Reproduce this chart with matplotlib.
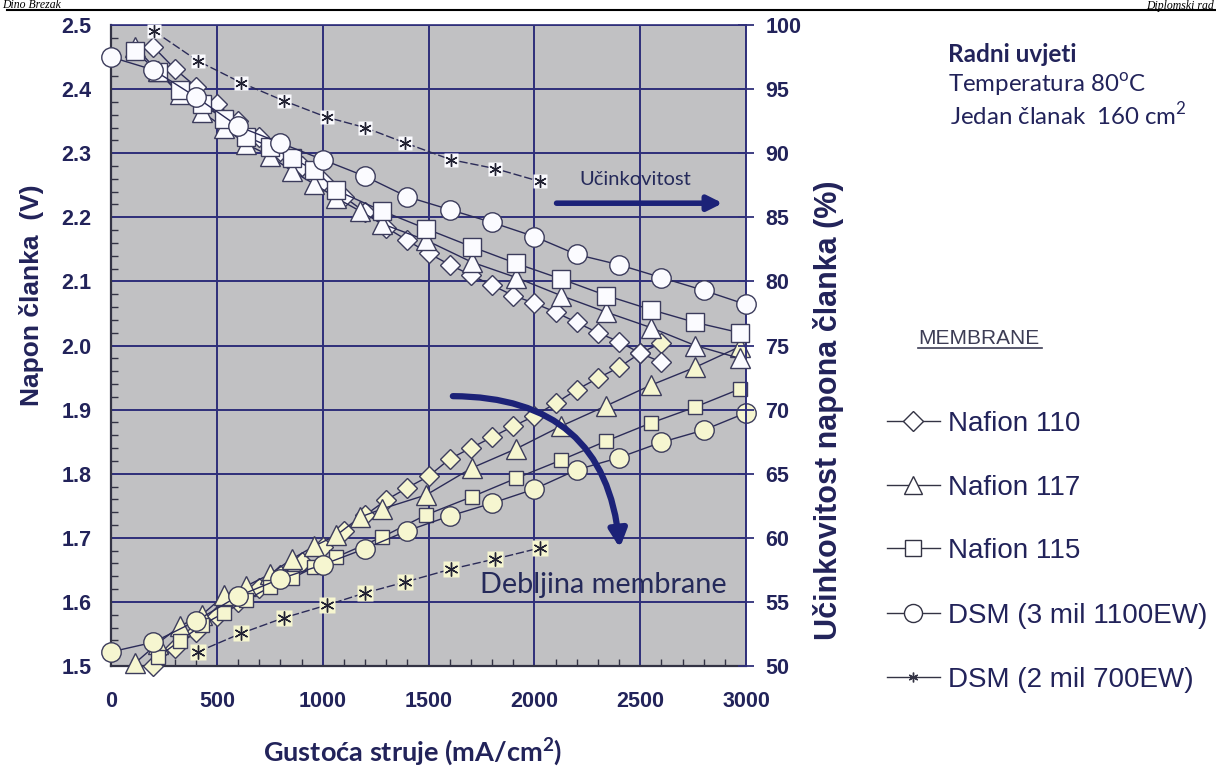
import matplotlib
matplotlib.use('Agg')
import matplotlib.pyplot as plt
from matplotlib.lines import Line2D
from matplotlib.ticker import MultipleLocator, FormatStrFormatter
import numpy as np

plt.rcParams['mathtext.fontset'] = 'custom'
plt.rcParams['mathtext.rm'] = 'Lato'
plt.rcParams['mathtext.bf'] = 'Lato:bold'

# ---------------- data ----------------
# Nafion 110 (diamonds)
n110_x = [200, 300, 400, 500, 600, 700, 800, 900, 1000, 1100, 1200, 1300, 1400,
          1500, 1600, 1700, 1800, 1900, 2000, 2100, 2200, 2300, 2400, 2500, 2600]
n110_eff = [98.3, 96.6, 95.2, 93.8, 92.5, 91.3, 90.2, 89.0, 87.8, 86.6, 85.4, 84.2, 83.2,
            82.2, 81.3, 80.5, 79.7, 78.9, 78.3, 77.6, 76.8, 76.0, 75.3, 74.4, 73.7]
n110_volt = [1.500, 1.528, 1.553, 1.578, 1.600, 1.622, 1.642, 1.663, 1.686, 1.710, 1.735, 1.759, 1.778,
             1.796, 1.823, 1.840, 1.857, 1.874, 1.890, 1.910, 1.931, 1.949, 1.966, 1.988, 2.004]

# Nafion 117 (triangles)
n117_x = [115, 220, 325, 430, 535, 640, 750, 855, 960, 1065, 1175, 1280,
          1490, 1705, 1915, 2125, 2340, 2550, 2760, 2970]
n117_eff = [98.3, 96.4, 94.6, 93.2, 92.0, 90.7, 89.8, 88.6, 87.6, 86.5, 85.5, 84.5,
            83.2, 81.5, 80.3, 78.9, 77.6, 76.4, 75.0, 74.0]
n117_volt = [1.505, 1.535, 1.562, 1.580, 1.610, 1.625, 1.643, 1.667, 1.687, 1.704, 1.732, 1.745,
             1.767, 1.809, 1.839, 1.874, 1.906, 1.938, 1.966, 1.998]

# Nafion 115 (squares)
n115_x = [115, 220, 325, 430, 535, 640, 750, 855, 960, 1065, 1280, 1490,
          1705, 1915, 2125, 2340, 2550, 2760, 2970]
n115_eff = [98.0, 96.3, 94.9, 93.8, 92.7, 91.3, 90.5, 89.6, 88.7, 87.1, 85.5, 84.1,
            82.7, 81.4, 80.2, 78.9, 77.8, 76.8, 76.0]
n115_vx = [220, 325, 430, 535, 640, 750, 855, 960, 1065, 1280, 1490,
           1705, 1915, 2125, 2340, 2550, 2760, 2970]
n115_volt = [1.514, 1.539, 1.564, 1.583, 1.603, 1.623, 1.637, 1.654, 1.670, 1.701, 1.736,
             1.764, 1.793, 1.821, 1.851, 1.879, 1.904, 1.932]

# DSM 3 mil 1100EW (circles)
dsm3_x = [0, 200, 400, 600, 800, 1000, 1200, 1400, 1600, 1800, 2000, 2200, 2400, 2600, 2800, 3000]
dsm3_eff = [97.5, 96.5, 94.4, 92.1, 90.8, 89.5, 88.2, 86.6, 85.6, 84.6, 83.5, 82.1, 81.3, 80.3, 79.3, 78.2]
dsm3_volt = [1.522, 1.537, 1.570, 1.609, 1.636, 1.658, 1.683, 1.711, 1.734, 1.754, 1.776, 1.806,
             1.825, 1.849, 1.868, 1.895]

# DSM 2 mil 700EW (stars)
dsm2_x = [205, 410, 615, 815, 1020, 1200, 1390, 1605, 1815, 2025]
dsm2_eff = [99.5, 97.2, 95.5, 94.1, 92.8, 92.0, 90.8, 89.5, 88.8, 87.8]
dsm2_vx = [410, 615, 815, 1020, 1200, 1390, 1605, 1815, 2025]
dsm2_volt = [1.522, 1.551, 1.575, 1.595, 1.614, 1.631, 1.651, 1.667, 1.684]

legend_labels = ['Nafion 110', 'Nafion 117', 'Nafion 115', 'DSM (3 mil 1100EW)', 'DSM (2 mil 700EW)']

# ---------------- styling ----------------
W, H = 1216, 769
NAVY = '#22235a'
GRID = '#2f2f7a'
LINE = '#2b2b58'
EDGE = '#3c3c5c'
WHITE = '#fbfbff'
CREAM = '#f6f6d0'
ARROW = '#1c2278'

fig = plt.figure(figsize=(W / 100, H / 100), dpi=100)
L, R, T, B = 111, 746, 25, 666
ax = fig.add_axes([L / W, 1 - B / H, (R - L) / W, (B - T) / H])
ax.set_facecolor('#c1c1c3')
ax.set_xlim(0, 3000)
ax.set_ylim(1.5, 2.5)
ax2 = ax.twinx()
ax2.set_ylim(50, 100)

ax.xaxis.set_major_locator(MultipleLocator(500))
ax.xaxis.set_minor_locator(MultipleLocator(100))
ax.yaxis.set_major_locator(MultipleLocator(0.1))
ax.yaxis.set_minor_locator(MultipleLocator(0.02))
ax.yaxis.set_major_formatter(FormatStrFormatter('%.1f'))
ax2.yaxis.set_major_locator(MultipleLocator(5))

tick_font = dict(family='Liberation Sans', weight='bold', size=15.5)
ax.grid(which='major', color=GRID, lw=1.4, zorder=0)
ax.set_axisbelow(True)
ax.tick_params(axis='x', which='major', length=0, pad=18, labelcolor=NAVY)
ax.tick_params(axis='x', which='minor', direction='in', length=5, width=1, color='#333344')
ax.tick_params(axis='y', which='major', length=0, pad=14, labelcolor=NAVY)
ax.tick_params(axis='y', which='minor', direction='in', length=5, width=1, color='#333344')
ax2.tick_params(axis='y', which='major', direction='inout', length=12, width=1.3, color=GRID,
                pad=8, labelcolor=NAVY)
for lab in ax.get_xticklabels() + ax.get_yticklabels() + ax2.get_yticklabels():
    lab.set_fontproperties(matplotlib.font_manager.FontProperties(**tick_font))

for sp in ['left', 'bottom']:
    ax.spines[sp].set_color('#333344')
    ax.spines[sp].set_linewidth(1.6)
ax.spines['top'].set_color(GRID)
ax.spines['top'].set_linewidth(1.2)
ax.spines['right'].set_visible(False)
for sp in ['left', 'bottom', 'top']:
    ax2.spines[sp].set_visible(False)
ax2.spines['right'].set_color(GRID)
ax2.spines['right'].set_linewidth(1.4)

common = dict(color=LINE, lw=1.0, mec=EDGE, mew=1.0, clip_on=False)

# falling (efficiency, right axis)
ax2.plot(n110_x, n110_eff, marker='D', ms=10, mfc=WHITE, zorder=3, **common)
ax2.plot(n117_x, n117_eff, marker='^', ms=15, mfc=WHITE, zorder=4, **common)
ax2.plot(n115_x, n115_eff, marker='s', ms=13, mfc=WHITE, zorder=5, **common)
ax2.plot(dsm3_x, dsm3_eff, marker='o', ms=14, mfc=WHITE, zorder=6, **common)
ax2.plot(dsm2_x, dsm2_eff, ls=(0, (6, 2)), color=LINE, lw=1.0, zorder=6, clip_on=False)
ax2.plot(dsm2_x, dsm2_eff, ls='none', marker='s', ms=10, mfc=WHITE, mec='none', zorder=7, clip_on=False)
ax2.plot(dsm2_x, dsm2_eff, ls='none', marker=(6, 2, 0), ms=9, mec='#222233', mew=1.0, zorder=8, clip_on=False)

# rising (voltage, left axis)
ax.plot(n110_x, n110_volt, marker='D', ms=10, mfc=CREAM, zorder=3, **common)
ax.plot(n117_x, n117_volt, marker='^', ms=15, mfc=CREAM, zorder=4, **common)
ax.plot(n115_vx, n115_volt, marker='s', ms=10, mfc=CREAM, zorder=5, **common)
ax.plot(dsm3_x, dsm3_volt, marker='o', ms=14, mfc=CREAM, zorder=6, **common)
ax.plot(dsm2_vx, dsm2_volt, ls=(0, (6, 2)), color=LINE, lw=1.0, zorder=6, clip_on=False)
ax.plot(dsm2_vx, dsm2_volt, ls='none', marker='s', ms=11, mfc=CREAM, mec='none', zorder=7, clip_on=False)
ax.plot(dsm2_vx, dsm2_volt, ls='none', marker=(6, 2, 0), ms=10, mec='#222233', mew=1.0, zorder=8, clip_on=False)

# annotations inside the plot
ax2.annotate('', xy=(2890, 86.1), xytext=(2105, 86.1),
             arrowprops=dict(arrowstyle='-|>', color=ARROW, lw=4, mutation_scale=22,
                             shrinkA=0, shrinkB=0), zorder=9)
ax2.text(2215, 87.5, 'Učinkovitost', family='Lato', size=14.5, color='#252a5a',
         ha='left', va='baseline', zorder=9)
ax.annotate('', xy=(2404, 1.684), xytext=(1615, 1.921),
            arrowprops=dict(arrowstyle='-|>', connectionstyle='arc3,rad=-0.45', color=ARROW,
                            lw=4.5, mutation_scale=26, shrinkA=0, shrinkB=0), zorder=9)
ax.text(1743, 1.614, 'Debljina membrane', family='Lato', size=20.8, color='#252a5a',
        ha='left', va='baseline', zorder=9)

# axis labels
fig.text(32 / W, 1 - 295 / H, 'Napon članka  (V)', rotation=90, ha='center', va='center',
         family='Liberation Sans', weight='bold', size=19, color=NAVY)
fig.text(828 / W, 1 - 410 / H, 'Učinkovitost napona članka (%)', rotation=90, ha='center',
         va='center', family='Liberation Sans', weight='bold', size=22, color=NAVY)
fig.text(413 / W, 1 - 752 / H, r'Gustoća struje (mA/cm$^{\mathbf{2}}$)', ha='center', va='center',
         family='Lato', weight='bold', size=19.5, color=NAVY)

# header (running head of the page)
fig.add_artist(Line2D([7 / W, 1.0], [1 - 10 / H, 1 - 10 / H], color='black', lw=1.5))
fig.text(0.002, 1 - 8.5 / H, 'Dino Brezak', family='Liberation Serif', style='italic', size=8.5,
         ha='left', va='baseline')
fig.text(0.998, 1 - 8.5 / H, 'Diplomski rad', family='Liberation Serif', style='italic', size=8.5,
         ha='right', va='baseline')

# working conditions
fig.text(948 / W, 1 - 62 / H, 'Radni uvjeti', family='Lato', weight='bold', size=17.5,
         color=NAVY, ha='left', va='baseline')
fig.text(948 / W, 1 - 92 / H, r'Temperatura 80$^{\mathrm{o}}$C', family='Lato', size=17.3,
         color=NAVY, ha='left', va='baseline')
fig.text(950 / W, 1 - 125 / H, r'Jedan članak  160 cm$^{\mathrm{2}}$', family='Lato', size=17.3,
         color=NAVY, ha='left', va='baseline')

# legend
fig.text(918 / W, 1 - 344 / H, 'MEMBRANE', family='Liberation Sans', size=15, color='#3d3d55',
         ha='left', va='baseline')
fig.add_artist(Line2D([918 / W, 1042 / W], [1 - 348 / H, 1 - 348 / H], color='#3d3d55', lw=1.2))
leg_markers = ['D', '^', 's', 'o', (6, 2, 0)]
leg_ms = [10, 13, 12, 13, 7]
leg_base = [431, 495, 558, 623, 687]
for lab, mk, ms, yb in zip(legend_labels, leg_markers, leg_ms, leg_base):
    yc = 1 - (yb - 10) / H
    fig.add_artist(Line2D([887 / W, 940 / W], [yc, yc], color='#333344', lw=1.0))
    fig.add_artist(Line2D([913 / W], [yc], marker=mk, ms=ms, mfc='white', mec='#333344',
                          mew=1.0, ls='none'))
    fig.text(948 / W, 1 - yb / H, lab, family='Liberation Sans', size=20, color=NAVY,
             ha='left', va='baseline')

fig.savefig('out.png', dpi=100, facecolor='white')
